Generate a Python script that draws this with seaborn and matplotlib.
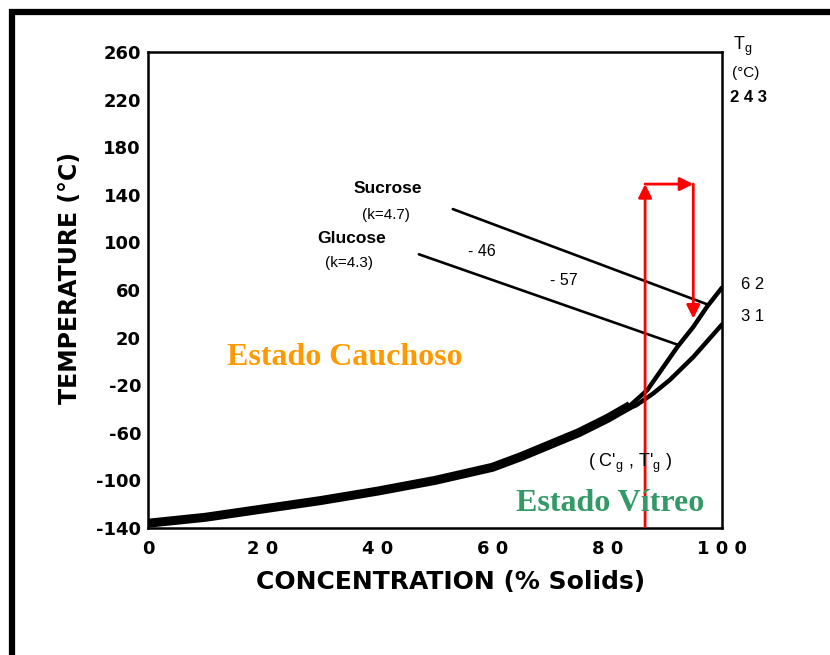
import matplotlib
matplotlib.use("Agg")
import matplotlib.pyplot as plt
import seaborn as sns
import pandas as pd
from matplotlib.patches import Rectangle

# ---- data ----
conc_main = [0, 10, 20, 30, 40, 50, 60, 65, 70, 75, 80, 84]
temp_main = [-136, -131, -124, -117, -109, -100, -89, -80, -70, -60, -48, -37]

conc_sucrose_branch = [84, 87, 92.2, 95, 97.4, 100]
temp_sucrose_branch = [-37, -24, 12, 29, 46, 62]

conc_glucose_branch = [84, 85, 88, 90.9, 95, 100]
temp_glucose_branch = [-39, -37, -27, -15.6, 3.7, 31]

conc_sucrose_line = [53.1, 97.4]
temp_sucrose_line = [128, 48]
conc_glucose_line = [47.2, 92.3]
temp_glucose_line = [90, 14]

arrow_conc = [86.6, 86.6, 95.0, 95.0]
arrow_temp = [-139, 149, 149, 36]

y_ticks = [-140, -100, -60, -20, 20, 60, 100, 140, 180, 220, 260]
x_ticks = [0, 20, 40, 60, 80, 100]
x_tick_labels = ["0", "2 0", "4 0", "6 0", "8 0", "1 0 0"]

# ---- figure ----
sns.set_style("white")
plt.rcParams["font.family"] = ["Liberation Sans", "DejaVu Sans"]
plt.rcParams["axes.unicode_minus"] = False
for k in ["text.color", "axes.labelcolor", "xtick.color", "ytick.color",
          "axes.edgecolor"]:
    plt.rcParams[k] = "black"

fig = plt.figure(figsize=(8.3, 6.55), dpi=100)
ax = fig.add_axes([148 / 830, 1 - 528 / 655, (722 - 148) / 830, (528 - 52) / 655])

main_df = pd.DataFrame({"c": conc_main, "t": temp_main})
sns.lineplot(data=main_df, x="c", y="t", ax=ax, color="black", lw=6.5,
             solid_capstyle="butt", solid_joinstyle="round", sort=False)
sns.lineplot(x=conc_sucrose_branch, y=temp_sucrose_branch, ax=ax, color="black",
             lw=3.2, sort=False, solid_joinstyle="round")
sns.lineplot(x=conc_glucose_branch, y=temp_glucose_branch, ax=ax, color="black",
             lw=3.2, sort=False, solid_joinstyle="round")
sns.lineplot(x=conc_sucrose_line, y=temp_sucrose_line, ax=ax, color="black",
             lw=1.9, sort=False)
sns.lineplot(x=conc_glucose_line, y=temp_glucose_line, ax=ax, color="black",
             lw=1.9, sort=False)

# red arrows
for i in range(3):
    ax.annotate("", xy=(arrow_conc[i + 1], arrow_temp[i + 1]),
                xytext=(arrow_conc[i], arrow_temp[i]),
                arrowprops=dict(arrowstyle="-|>", color="red", lw=2.0,
                                mutation_scale=20, shrinkA=0, shrinkB=0),
                annotation_clip=False)

ax.set_xlim(0, 100)
ax.set_ylim(-140, 260)
ax.set_xticks(x_ticks)
ax.set_xticklabels(x_tick_labels)
ax.set_yticks(y_ticks)
ax.set_xticks(list(range(10, 100, 20)), minor=True)
ax.set_yticks(list(range(-120, 260, 40)), minor=True)
ax.tick_params(axis="both", which="major", direction="in", length=6, width=1.6,
               labelsize=13)
ax.tick_params(axis="both", which="minor", direction="in", length=3, width=1.4)
ax.tick_params(axis="x", which="major", pad=9)
ax.tick_params(axis="y", which="major", pad=5)
for lab in ax.get_xticklabels() + ax.get_yticklabels():
    lab.set_fontweight("bold")
    lab.set_family(["DejaVu Sans"])

for s in ax.spines.values():
    s.set_linewidth(1.8)

ax.set_xlabel("CONCENTRATION (% Solids)", fontsize=18, fontweight="bold",
              family=["DejaVu Sans"])
ax.set_ylabel("TEMPERATURE (°C)", fontsize=17, fontweight="bold",
              family=["DejaVu Sans"])
ax.xaxis.set_label_coords(0.527, -0.088)
ax.yaxis.set_label_coords(-0.115, 0.525)

# annotations inside
ax.text(41.7, 145, "Sucrose", fontsize=12.5, fontweight="bold", ha="center", va="center")
ax.text(41.5, 123, "(k=4.7)", fontsize=11, ha="center", va="center")
ax.text(35.5, 103, "Glucose", fontsize=12.5, fontweight="bold", ha="center", va="center")
ax.text(35.0, 82.7, "(k=4.3)", fontsize=11, ha="center", va="center")
ax.text(58.2, 92, "- 46", fontsize=11.5, ha="center", va="center")
ax.text(72.5, 67.6, "- 57", fontsize=11.5, ha="center", va="center")
ax.text(84.0, -85.5, r"( C'$_{\mathregular{g}}$ , T'$_{\mathregular{g}}$ )", fontsize=13,
        ha="center", va="center")

ax.text(34.3, 3, "Estado Cauchoso", fontsize=23, fontweight="bold",
        family=["Liberation Serif"], color="#FF9900", ha="center", va="center")
ax.text(80.5, -119, "Estado Vítreo", fontsize=23, fontweight="bold",
        family=["Liberation Serif"], color="#339966", ha="center", va="center")

# right side labels
ax.text(102.0, 265, r"T$_{\mathregular{g}}$", fontsize=13, ha="left", va="center",
        clip_on=False)
ax.text(101.8, 242, "(°C)", fontsize=11, ha="left", va="center", clip_on=False)
ax.text(101.4, 222, "2 4 3", fontsize=12, fontweight="bold", ha="left", va="center",
        clip_on=False)
ax.text(103.3, 65, "6 2", fontsize=12, ha="left", va="center", clip_on=False)
ax.text(103.3, 38, "3 1", fontsize=12, ha="left", va="center", clip_on=False)

# outer frame
fig.patches.append(Rectangle((12 / 830, -0.1), 1.2, 1 - 12 / 655 + 0.1,
                             transform=fig.transFigure, fill=False,
                             edgecolor="black", lw=4.5))

fig.savefig("out.png", dpi=100)
